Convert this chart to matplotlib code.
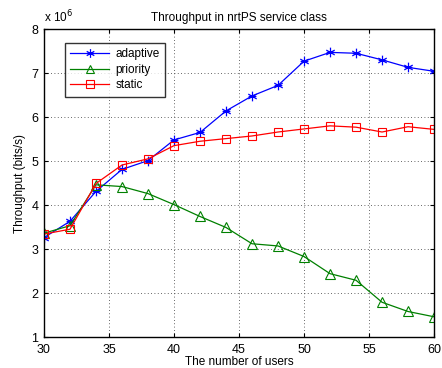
import matplotlib
matplotlib.use("Agg")
import matplotlib.pyplot as plt
from matplotlib.path import Path
import numpy as np

users = [30, 32, 34, 36, 38, 40, 42, 44, 46, 48, 50, 52, 54, 56, 58, 60]
adaptive = [3.26, 3.63, 4.31, 4.81, 5.01, 5.48, 5.65, 6.14, 6.48, 6.72, 7.27, 7.47, 7.45, 7.30, 7.13, 7.04]
priority = [3.36, 3.53, 4.46, 4.42, 4.26, 4.01, 3.74, 3.49, 3.12, 3.07, 2.83, 2.44, 2.29, 1.79, 1.58, 1.46]
static = [3.34, 3.45, 4.49, 4.91, 5.05, 5.35, 5.45, 5.51, 5.57, 5.66, 5.73, 5.80, 5.77, 5.66, 5.78, 5.72]
xticks = [30, 35, 40, 45, 50, 55, 60]
yticks = [1, 2, 3, 4, 5, 6, 7, 8]

# MATLAB-like asterisk marker (line segments)
verts, codes = [], []
for ang in [90, 30, 150]:
    a = np.deg2rad(ang)
    verts += [(-np.cos(a), -np.sin(a)), (np.cos(a), np.sin(a))]
    codes += [Path.MOVETO, Path.LINETO]
verts += [(-0.8, 0), (0.8, 0)]
codes += [Path.MOVETO, Path.LINETO]
asterisk = Path(verts, codes)

plt.rcParams['font.family'] = ['Liberation Sans', 'DejaVu Sans']
fig = plt.figure(figsize=(4.42, 3.68), dpi=100)
ax = fig.add_axes([0.0995, 0.0842, 0.8825, 0.8368])

ax.plot(users, adaptive, color='#0000ff', lw=0.9, marker=asterisk, ms=7, mew=0.9, mfc='none', label='adaptive')
ax.plot(users, priority, color='#008000', lw=0.9, marker='^', ms=7, mfc='none', mew=0.8, label='priority')
ax.plot(users, static, color='#ff0000', lw=0.9, marker='s', ms=6, mfc='none', mew=0.8, label='static')

ax.set_xlim(30, 60)
ax.set_ylim(1, 8)
ax.set_xticks(xticks)
ax.set_yticks(yticks)
ax.tick_params(direction='in', labelsize=9, length=3, top=True, right=True)
ax.tick_params(axis='x', pad=5)
ax.tick_params(axis='y', pad=4)
ax.grid(True, linestyle=(0, (1, 3)), color='#333333', lw=0.6)
for s in ax.spines.values():
    s.set_linewidth(1.0)

ax.set_xlabel('The number of users', fontsize=8.5, labelpad=0)
ax.set_ylabel('Throughput (bits/s)', fontsize=8.5, labelpad=4)
ax.set_title('Throughput in nrtPS service class', fontsize=8.5, pad=6)
ax.text(0.0, 1.012, r'x 10$^{6}$', transform=ax.transAxes, fontsize=8.5, ha='left', va='bottom')

leg = ax.legend(loc='upper left', bbox_to_anchor=(0.054, 0.955), fontsize=8.5, frameon=True,
                fancybox=False, edgecolor='black', borderpad=0.45, handlelength=3.3,
                labelspacing=0.3, borderaxespad=0, handletextpad=0.5, markerscale=0.9)
leg.get_frame().set_linewidth(1.0)

fig.savefig('out.png', dpi=100)
